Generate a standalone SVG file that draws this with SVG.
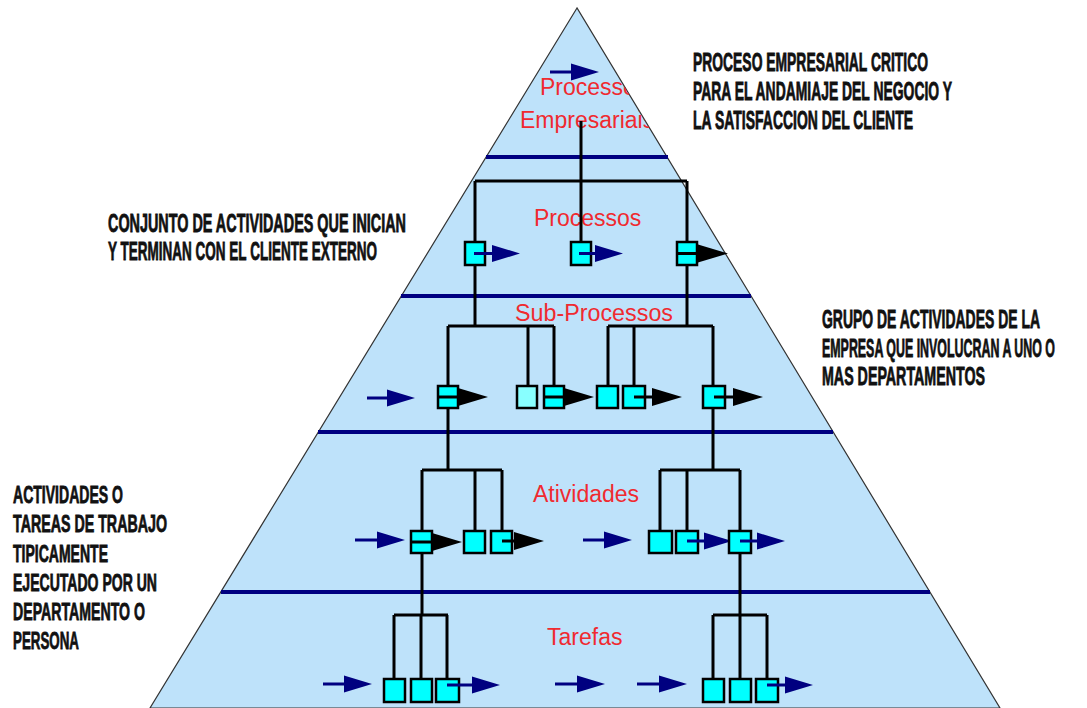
<svg xmlns="http://www.w3.org/2000/svg" xmlns:xlink="http://www.w3.org/1999/xlink" width="1087" height="708" viewBox="0 0 1087 708">
<style>
.pyr{fill:#bee2fa;stroke:#333;stroke-width:1.2}
.band{stroke:#000080;stroke-width:4}
.wire{stroke:#000;stroke-width:3;fill:none}
.nline{stroke:#000080;stroke-width:3;fill:none}
.bline{stroke:#000;stroke-width:3;fill:none}
.box{fill:#00ffff;stroke:#000;stroke-width:2.5}
.lbox{fill:#88ffff;stroke:#000;stroke-width:2.5}
.lbl{font-family:"Liberation Sans",Arial,sans-serif;font-size:23px;fill:#f02a30}
.note{font-family:"Liberation Sans",Arial,sans-serif;font-weight:bold;font-size:25px;fill:#111;stroke:#111;stroke-width:0.8}
.note2{font-size:24px}
</style>
<defs>
<clipPath id="pyrClip"><polygon points="577,8 150,708 1000,708"/></clipPath>
<path id="nh" d="M-28,-8.5 L0,0 L-28,8.5 Z" fill="#000080"/>
<path id="bh" d="M-30,-9 L0,0 L-30,9 Z" fill="#000"/>
</defs>
<rect width="1087" height="708" fill="#fff"/>
<polygon class="pyr" points="577,8 150,708 1000,708"/>
<g id="bands">
<line class="band" x1="486" y1="157" x2="668" y2="157"/>
<line class="band" x1="401" y1="296" x2="751" y2="296"/>
<line class="band" x1="318" y1="432" x2="833" y2="432"/>
<line class="band" x1="221" y1="592" x2="930" y2="592"/>
</g>
<g id="level-labels">
<g clip-path="url(#pyrClip)">
<text class="lbl" x="540" y="95">Processo</text>
<text class="lbl" x="520" y="128">Empresariais</text>
</g>
<text class="lbl" x="534" y="226">Processos</text>
<text class="lbl" x="515" y="321" textLength="158" lengthAdjust="spacingAndGlyphs">Sub-Processos</text>
<text class="lbl" x="533" y="502">Atividades</text>
<text class="lbl" x="547" y="645">Tarefas</text>
</g>
<g id="connectors">
<path class="wire" d="M581,121 V242 M475,181 H687 M475,181 V242 M687,181 V242"/>
<path class="wire" d="M475,265 V326 M687,265 V326 M448,326 H554 M608,326 H713"/>
<path class="wire" d="M448,326 V386 M528,326 V386 M554,326 V386 M608,326 V386 M634,326 V386 M713,326 V386"/>
<path class="wire" d="M448,408 V470 M713,408 V470 M422,470 H502 M660,470 H740"/>
<path class="wire" d="M422,470 V531 M475,470 V531 M502,470 V531 M660,470 V531 M687,470 V531 M740,470 V531"/>
<path class="wire" d="M422,553 V615 M740,553 V615 M394,615 H448 M713,615 H767"/>
<path class="wire" d="M394,615 V679 M421,615 V679 M447,615 V679 M713,615 V679 M740,615 V679 M767,615 V679"/>
<line class="nline" x1="550" y1="72" x2="580" y2="72"/><use xlink:href="#nh" x="599" y="72"/>
<line class="nline" x1="367" y1="398" x2="395" y2="398"/><use xlink:href="#nh" x="415" y="398"/>
<line class="nline" x1="355" y1="540" x2="385" y2="540"/><use xlink:href="#nh" x="405" y="540"/>
<line class="nline" x1="583" y1="540" x2="612" y2="540"/><use xlink:href="#nh" x="632" y="540"/>
<line class="nline" x1="323" y1="684" x2="352" y2="684"/><use xlink:href="#nh" x="372" y="684"/>
<line class="nline" x1="555" y1="684" x2="585" y2="684"/><use xlink:href="#nh" x="605" y="684"/>
<line class="nline" x1="637" y1="684" x2="667" y2="684"/><use xlink:href="#nh" x="687" y="684"/>
</g>
<g id="p1"><rect class="box" x="465" y="242" width="20" height="23"/><line class="nline" x1="474" y1="253.5" x2="500" y2="253.5"/><use xlink:href="#nh" x="520" y="253.5"/></g>
<g id="p2"><rect class="box" x="571" y="242" width="20" height="23"/><line class="nline" x1="579" y1="253.5" x2="603" y2="253.5"/><use xlink:href="#nh" x="623" y="253.5"/></g>
<g id="p3"><rect class="box" x="677" y="242" width="20" height="23"/><line class="bline" x1="677" y1="253.5" x2="697" y2="253.5"/><use xlink:href="#bh" x="728" y="253.5"/></g>
<g id="s1"><rect class="box" x="438" y="386" width="20" height="22"/><line class="bline" x1="438" y1="397" x2="458" y2="397"/><use xlink:href="#bh" x="488" y="397"/></g>
<g id="s2"><rect class="lbox" x="517" y="386" width="20" height="22"/></g>
<g id="s3"><rect class="box" x="544" y="386" width="20" height="22"/><line class="bline" x1="544" y1="397" x2="564" y2="397"/><use xlink:href="#bh" x="594" y="397"/></g>
<g id="s4"><rect class="box" x="597" y="386" width="21" height="22"/></g>
<g id="s5"><rect class="box" x="623" y="386" width="22" height="22"/><line class="bline" x1="634" y1="397" x2="662" y2="397"/><use xlink:href="#bh" x="682" y="397"/></g>
<g id="s6"><rect class="box" x="703" y="386" width="22" height="22"/><line class="bline" x1="714" y1="397" x2="743" y2="397"/><use xlink:href="#bh" x="763" y="397"/></g>
<g id="a1"><rect class="box" x="411" y="531" width="21" height="22"/><line class="bline" x1="411" y1="542" x2="432" y2="542"/><use xlink:href="#bh" x="462" y="542"/></g>
<g id="a2"><rect class="box" x="464" y="531" width="21" height="22"/></g>
<g id="a3"><rect class="box" x="491" y="531" width="21" height="22"/><line class="bline" x1="502" y1="541" x2="524" y2="541"/><use xlink:href="#bh" x="544" y="541"/></g>
<g id="a4"><rect class="box" x="649" y="531" width="23" height="22"/></g>
<g id="a5"><rect class="box" x="676" y="531" width="22" height="22"/><line class="nline" x1="687" y1="541" x2="712" y2="541"/><use xlink:href="#nh" x="732" y="541"/></g>
<g id="a6"><rect class="box" x="729" y="531" width="22" height="22"/><line class="nline" x1="740" y1="541" x2="765" y2="541"/><use xlink:href="#nh" x="785" y="541"/></g>
<g id="t1"><rect class="box" x="384" y="679" width="21" height="23"/></g>
<g id="t2"><rect class="box" x="411" y="679" width="21" height="23"/></g>
<g id="t3"><rect class="box" x="436" y="679" width="23" height="23"/><line class="nline" x1="447" y1="685" x2="480" y2="685"/><use xlink:href="#nh" x="500" y="685"/></g>
<g id="t4"><rect class="box" x="703" y="679" width="21" height="23"/></g>
<g id="t5"><rect class="box" x="730" y="679" width="21" height="23"/></g>
<g id="t6"><rect class="box" x="756" y="679" width="22" height="23"/><line class="nline" x1="767" y1="685" x2="793" y2="685"/><use xlink:href="#nh" x="813" y="685"/></g>
<g id="note-top">
<text class="note" x="693" y="71" textLength="235" lengthAdjust="spacingAndGlyphs">PROCESO EMPRESARIAL CRITICO</text>
<text class="note" x="693" y="100" textLength="259" lengthAdjust="spacingAndGlyphs">PARA EL ANDAMIAJE DEL NEGOCIO Y</text>
<text class="note" x="693" y="129" textLength="220" lengthAdjust="spacingAndGlyphs">LA SATISFACCION DEL CLIENTE</text>
</g>
<g id="note-proc">
<text class="note" x="108" y="232" textLength="298" lengthAdjust="spacingAndGlyphs">CONJUNTO DE ACTIVIDADES QUE INICIAN</text>
<text class="note" x="108" y="260" textLength="269" lengthAdjust="spacingAndGlyphs">Y TERMINAN CON EL CLIENTE EXTERNO</text>
</g>
<g id="note-sub">
<text class="note" x="822" y="328" textLength="218" lengthAdjust="spacingAndGlyphs">GRUPO DE ACTIVIDADES DE LA</text>
<text class="note" x="822" y="357" textLength="233" lengthAdjust="spacingAndGlyphs">EMPRESA QUE INVOLUCRAN A UNO O</text>
<text class="note" x="822" y="385" textLength="163" lengthAdjust="spacingAndGlyphs">MAS DEPARTAMENTOS</text>
</g>
<g id="note-act">
<text class="note note2" x="13" y="503" textLength="110" lengthAdjust="spacingAndGlyphs">ACTIVIDADES O</text>
<text class="note note2" x="13" y="532" textLength="154" lengthAdjust="spacingAndGlyphs">TAREAS DE TRABAJO</text>
<text class="note note2" x="13" y="562" textLength="95" lengthAdjust="spacingAndGlyphs">TIPICAMENTE</text>
<text class="note note2" x="13" y="591" textLength="144" lengthAdjust="spacingAndGlyphs">EJECUTADO POR UN</text>
<text class="note note2" x="13" y="620" textLength="132" lengthAdjust="spacingAndGlyphs">DEPARTAMENTO O</text>
<text class="note note2" x="13" y="649" textLength="66" lengthAdjust="spacingAndGlyphs">PERSONA</text>
</g>
</svg>
